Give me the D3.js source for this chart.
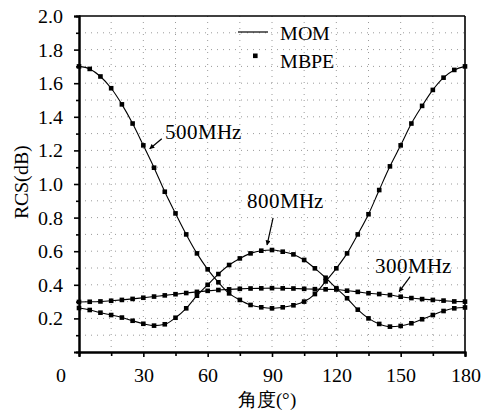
<!DOCTYPE html>
<html>
<head>
<meta charset="utf-8">
<script src="https://cdn.jsdelivr.net/npm/d3@7"></script>
<style>
  @font-face { font-family: "ChartSerif"; src: local("Liberation Serif"), local("LiberationSerif-Regular"), local("LiberationSerif"); }
</style>
</head>
<body style="margin:0">
<svg id="chart" width="490" height="414"></svg>
<script>
// Observation angles (degrees)
const angles = [0, 5, 10, 15, 20, 25, 30, 35, 40, 45, 50, 55, 60, 65, 70, 75, 80, 85, 90,
                95, 100, 105, 110, 115, 120, 125, 130, 135, 140, 145, 150, 155, 160, 165, 170, 175, 180];

// RCS (dB) at each angle, per frequency
const rcs500 = [1.700, 1.685, 1.640, 1.570, 1.474, 1.360, 1.230, 1.097, 0.954, 0.825, 0.700, 0.587, 0.492,
                0.415, 0.349, 0.310, 0.280, 0.266, 0.260, 0.266, 0.278, 0.300, 0.345, 0.420, 0.498, 0.587,
                0.700, 0.820, 0.964, 1.105, 1.230, 1.360, 1.465, 1.560, 1.633, 1.679, 1.700];
const rcs800 = [0.262, 0.250, 0.234, 0.220, 0.205, 0.186, 0.168, 0.157, 0.165, 0.204, 0.260, 0.335, 0.400,
                0.464, 0.518, 0.557, 0.587, 0.603, 0.607, 0.597, 0.581, 0.548, 0.498, 0.442, 0.380, 0.320,
                0.252, 0.200, 0.167, 0.151, 0.155, 0.171, 0.195, 0.220, 0.244, 0.260, 0.265];
const rcs300 = [0.298, 0.299, 0.301, 0.305, 0.310, 0.316, 0.323, 0.330, 0.337, 0.344, 0.351, 0.358, 0.364,
                0.369, 0.373, 0.376, 0.378, 0.379, 0.380, 0.379, 0.378, 0.376, 0.374, 0.373, 0.372, 0.365,
                0.358, 0.350, 0.345, 0.339, 0.329, 0.321, 0.315, 0.310, 0.306, 0.301, 0.300];

const seriesNames = ["300MHz", "500MHz", "800MHz"];
const seriesValues = [rcs300, rcs500, rcs800];

const xMajorTicks = [0, 30, 60, 90, 120, 150, 180];
const xMinorTicks = [15, 45, 75, 105, 135, 165];
const yMajorTicks = [0.2, 0.4, 0.6, 0.8, 1.0, 1.2, 1.4, 1.6, 1.8, 2.0];
const yMinorTicks = [0.1, 0.3, 0.5, 0.7, 0.9, 1.1, 1.3, 1.5, 1.7, 1.9];

const legendLabels = ["MOM", "MBPE"];
const xTitle = "角度(°)";
const yTitle = "RCS(dB)";

const faceNames = ["ChartSerif", "Liberation Serif"];
const FONT = faceNames.map(n => `"${n}"`).join(", ") + ", monospace";

const svg = d3.select("#chart");
const plot = { left: 79, right: 465, top: 16, bottom: 352 };

const x = d3.scaleLinear().domain([0, 180]).range([plot.left, plot.right]);
const y = d3.scaleLinear().domain([0, 2.0]).range([plot.bottom, plot.top]);

// Dotted grid
const grid = svg.append("g").attr("stroke", "#9a9a9a").attr("stroke-width", 1)
  .attr("stroke-dasharray", "1,5");
xMajorTicks.concat(xMinorTicks).filter(d => d > 0 && d < 180).forEach(d => {
  grid.append("line").attr("x1", x(d)).attr("x2", x(d)).attr("y1", plot.top).attr("y2", plot.bottom);
});
yMajorTicks.concat(yMinorTicks).filter(d => d > 0 && d < 2.0).forEach(d => {
  grid.append("line").attr("x1", plot.left).attr("x2", plot.right).attr("y1", y(d)).attr("y2", y(d));
});

// Curves (MOM) and sampled points (MBPE)
const line = d3.line().x((d, i) => x(angles[i])).y(d => y(d)).curve(d3.curveMonotoneX);
seriesValues.forEach((vals, k) => {
  svg.append("path").datum(vals).attr("d", line)
    .attr("fill", "none").attr("stroke", "#000").attr("stroke-width", 1.1);
  svg.append("g").selectAll("rect").data(vals).join("rect")
    .attr("x", (d, i) => x(angles[i]) - 2.3)
    .attr("y", d => y(d) - 2.3)
    .attr("width", 4.6).attr("height", 4.6)
    .attr("fill", "#000");
});

// Frame: top and right
svg.append("line").attr("x1", plot.left).attr("x2", plot.right).attr("y1", plot.top).attr("y2", plot.top)
  .attr("stroke", "#000").attr("stroke-width", 1.6);
svg.append("line").attr("x1", plot.right).attr("x2", plot.right).attr("y1", plot.top).attr("y2", plot.bottom)
  .attr("stroke", "#000").attr("stroke-width", 1.6);

// Axes
function styleAxis(g) {
  g.select(".domain").attr("stroke", "#000").attr("stroke-width", 2);
  g.selectAll(".tick line").attr("stroke", "#000").attr("stroke-width", 1.6);
  g.selectAll(".tick text").style("font-family", FONT).style("font-size", "20px").attr("fill", "#000");
}

const yAxisMinor = svg.append("g").attr("transform", `translate(${plot.left},0)`)
  .call(d3.axisLeft(y).tickValues(yMinorTicks).tickSize(3).tickFormat(""));
styleAxis(yAxisMinor);
const yAxis = svg.append("g").attr("transform", `translate(${plot.left},0)`)
  .call(d3.axisLeft(y).tickValues(yMajorTicks).tickSize(5).tickPadding(11).tickFormat(d3.format(".1f")));
styleAxis(yAxis);

const xAxisMinor = svg.append("g").attr("transform", `translate(0,${plot.bottom})`)
  .call(d3.axisBottom(x).tickValues(xMinorTicks).tickSize(4).tickFormat(""));
styleAxis(xAxisMinor);
const xAxis = svg.append("g").attr("transform", `translate(0,${plot.bottom})`)
  .call(d3.axisBottom(x).tickValues(xMajorTicks).tickSize(5).tickPadding(11).tickFormat(d3.format("d")));
styleAxis(xAxis);
// origin label sits left of the corner
xAxis.selectAll(".tick").filter(d => d === 0).select("text").attr("dx", -19);

// Axis titles
svg.append("text").attr("x", 267).attr("y", 406).attr("text-anchor", "middle")
  .style("font-family", FONT).style("font-size", "19px").text(xTitle);
svg.append("text").attr("transform", "translate(28,182) rotate(-90)").attr("text-anchor", "middle")
  .style("font-family", FONT).style("font-size", "20px").text(yTitle);

// Legend
svg.append("line").attr("x1", 238).attr("x2", 268).attr("y1", 32).attr("y2", 32)
  .attr("stroke", "#000").attr("stroke-width", 1.2);
svg.append("text").attr("x", 280).attr("y", 40).style("font-family", FONT).style("font-size", "20px")
  .text(legendLabels[0]);
svg.append("rect").attr("x", 253).attr("y", 53.5).attr("width", 4.6).attr("height", 4.6).attr("fill", "#000");
svg.append("text").attr("x", 280).attr("y", 68).style("font-family", FONT).style("font-size", "20px")
  .text(legendLabels[1]);

// Frequency annotations with arrows
svg.append("defs").append("marker")
  .attr("id", "arrow").attr("viewBox", "0 0 10 10").attr("refX", 9).attr("refY", 5)
  .attr("markerWidth", 6).attr("markerHeight", 5).attr("orient", "auto").attr("markerUnits", "userSpaceOnUse")
  .append("path").attr("d", "M0,0 L10,5 L0,10 z").attr("fill", "#000");

const annotations = [
  { name: "500MHz", angle: 33, value: 1.21, tail: [12, -10], label: [15, -10], anchor: "start" },
  { name: "800MHz", angle: 87.7, value: 0.637, tail: [6, -27], label: [18, -37], anchor: "middle" },
  { name: "300MHz", angle: 149.3, value: 0.359, tail: [11, -15], label: [13.5, -18.7], anchor: "middle" }
];
annotations.forEach(a => {
  const tx = x(a.angle), ty = y(a.value);
  svg.append("line").attr("x1", tx + a.tail[0]).attr("y1", ty + a.tail[1]).attr("x2", tx).attr("y2", ty)
    .attr("stroke", "#000").attr("stroke-width", 1.2).attr("marker-end", "url(#arrow)");
  svg.append("text").attr("x", tx + a.label[0]).attr("y", ty + a.label[1])
    .attr("text-anchor", a.anchor).style("font-family", FONT).style("font-size", "21px").text(a.name);
});
</script>
</body>
</html>
